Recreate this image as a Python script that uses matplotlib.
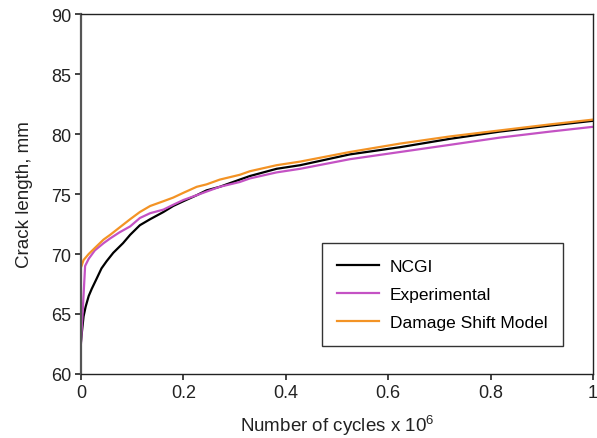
import matplotlib
matplotlib.use("Agg")
import matplotlib.pyplot as plt

plt.rcParams['font.family'] = ['Liberation Sans', 'DejaVu Sans']
plt.rcParams['mathtext.fontset'] = 'custom'
plt.rcParams['mathtext.rm'] = 'Liberation Sans'
plt.rcParams['mathtext.default'] = 'rm'

# crack growth curves, cycles in millions vs crack length in mm
ncgi_x = [0.0, 0.002, 0.005, 0.009, 0.015, 0.021, 0.03, 0.04, 0.05, 0.063, 0.082, 0.096,
          0.115, 0.135, 0.161, 0.18, 0.2, 0.226, 0.245, 0.271, 0.31, 0.33, 0.382, 0.428,
          0.525, 0.623, 0.721, 0.818, 0.916, 1.0]
ncgi_y = [62.7, 63.6, 64.8, 65.6, 66.5, 67.1, 67.9, 68.8, 69.4, 70.1, 70.9, 71.6,
          72.4, 72.9, 73.5, 74.0, 74.4, 74.9, 75.3, 75.6, 76.2, 76.5, 77.1, 77.4,
          78.3, 78.9, 79.6, 80.2, 80.7, 81.1]

exp_x = [0.0, 0.004, 0.008, 0.015, 0.027, 0.044, 0.057, 0.075, 0.096, 0.115, 0.135,
         0.161, 0.18, 0.2, 0.226, 0.245, 0.271, 0.31, 0.33, 0.382, 0.428, 0.525,
         0.623, 0.721, 0.818, 0.916, 1.0]
exp_y = [62.6, 65.8, 69.0, 69.6, 70.3, 70.9, 71.3, 71.8, 72.3, 73.0, 73.4,
         73.7, 74.1, 74.5, 74.9, 75.2, 75.6, 76.0, 76.3, 76.8, 77.1, 77.9,
         78.5, 79.1, 79.7, 80.2, 80.6]

dsm_x = [0.0, 0.001, 0.005, 0.015, 0.027, 0.044, 0.057, 0.075, 0.096, 0.115, 0.135,
         0.161, 0.18, 0.2, 0.226, 0.245, 0.271, 0.31, 0.33, 0.382, 0.428, 0.525,
         0.623, 0.721, 0.818, 0.916, 1.0]
dsm_y = [68.9, 69.0, 69.5, 70.0, 70.5, 71.2, 71.6, 72.2, 72.9, 73.5, 74.0,
         74.4, 74.7, 75.1, 75.6, 75.8, 76.2, 76.6, 76.9, 77.4, 77.7, 78.5,
         79.2, 79.8, 80.3, 80.8, 81.2]

fig = plt.figure(figsize=(5.97, 4.39), dpi=100)
ax = fig.add_axes([0.1357, 0.1458, 0.8576, 0.82])

ax.plot(ncgi_x, ncgi_y, color='black', lw=1.6, label='NCGI')
ax.plot(exp_x, exp_y, color='#c452c4', lw=1.6, label='Experimental')
ax.plot(dsm_x, dsm_y, color='#f39325', lw=1.6, label='Damage Shift Model')

ax.set_xlim(0, 1)
ax.set_ylim(60, 90)
ax.set_xticks([0, 0.2, 0.4, 0.6, 0.8, 1])
ax.set_xticklabels(['0', '0.2', '0.4', '0.6', '0.8', '1'])
ax.set_yticks([60, 65, 70, 75, 80, 85, 90])
ax.tick_params(labelsize=13, length=4, width=1.2, colors='#222222', pad=3)

for side in ['top', 'right', 'bottom']:
    ax.spines[side].set_color('#222222')
    ax.spines[side].set_linewidth(1.0)
ax.spines['left'].set_color('#555555')
ax.spines['left'].set_linewidth(1.6)

ax.set_xlabel('Number of cycles x 10$^{6}$', fontsize=13.5, color='#222222', labelpad=9)
ax.set_ylabel('Crack length, mm', fontsize=13.5, color='#222222', labelpad=13)

leg = ax.legend(loc='lower right', bbox_to_anchor=(0.941, 0.078), borderaxespad=0,
                fancybox=False, frameon=True, fontsize=12.5, handlelength=2.4,
                borderpad=0.9, labelspacing=0.75, handletextpad=0.6)
leg.get_frame().set_edgecolor('black')
leg.get_frame().set_linewidth(1.0)

fig.savefig('out.png', dpi=100)
